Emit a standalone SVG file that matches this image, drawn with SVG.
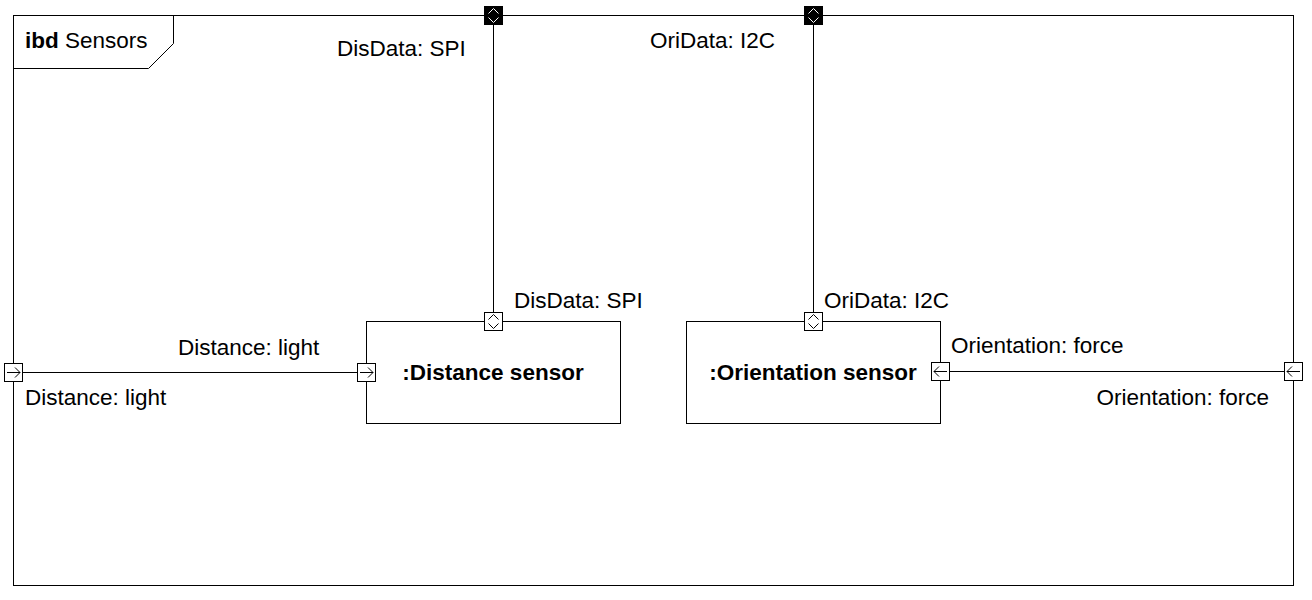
<svg xmlns="http://www.w3.org/2000/svg" width="1312" height="600" viewBox="0 0 1312 600">
<style>
.ln{fill:none;stroke:#000;stroke-width:1}
.box{fill:#fff;stroke:#000;stroke-width:1}
.port{fill:#fff;stroke:#000;stroke-width:1}
.bport{fill:#000;stroke:#000;stroke-width:1}
.sym{fill:none;stroke:#000;stroke-width:1}
.wsym{fill:none;stroke:#fff;stroke-width:1}
text{font-family:"Liberation Sans",Arial,sans-serif;font-size:22.5px;fill:#000}
.b{font-weight:bold}
</style>
<rect x="0" y="0" width="1312" height="600" fill="#fff"/>
<g id="frame">
<rect x="13.5" y="15.5" width="1280" height="570" class="box"/>
<path d="M13.5,68.5 H148.5 L173.5,43.5 V15.5" class="ln"/>
<text x="25" y="48"><tspan class="b">ibd</tspan> Sensors</text>
</g>
<g id="connectors">
<path d="M493.5,24 V312" class="ln"/>
<path d="M813.5,24 V312" class="ln"/>
<path d="M22,372.5 H357" class="ln"/>
<path d="M949,371.5 H1284" class="ln"/>
</g>
<g id="distance-sensor">
<rect x="366.5" y="321.5" width="254" height="102" class="box"/>
<text x="493" y="380" text-anchor="middle" class="b">:Distance sensor</text>
</g>
<g id="orientation-sensor">
<rect x="686.5" y="321.5" width="254" height="102" class="box"/>
<text x="813" y="380" text-anchor="middle" class="b">:Orientation sensor</text>
</g>
<g id="port-frame-disdata">
<rect x="484.5" y="6.5" width="18" height="18" class="bport"/>
<path d="M488.5,13.5 L493.5,8.5 L498.5,13.5 M488.5,17.5 L493.5,22.5 L498.5,17.5" class="wsym"/>
<text x="337" y="56">DisData: SPI</text>
</g>
<g id="port-frame-oridata">
<rect x="804.5" y="6.5" width="18" height="18" class="bport"/>
<path d="M808.5,13.5 L813.5,8.5 L818.5,13.5 M808.5,17.5 L813.5,22.5 L818.5,17.5" class="wsym"/>
<text x="650" y="48">OriData: I2C</text>
</g>
<g id="port-ds-disdata">
<rect x="484.5" y="312.5" width="18" height="18" class="port"/>
<path d="M488.5,319.5 L493.5,314.5 L498.5,319.5 M488.5,323.5 L493.5,328.5 L498.5,323.5" class="sym"/>
<text x="514" y="308">DisData: SPI</text>
</g>
<g id="port-os-oridata">
<rect x="804.5" y="312.5" width="18" height="18" class="port"/>
<path d="M808.5,319.5 L813.5,314.5 L818.5,319.5 M808.5,323.5 L813.5,328.5 L818.5,323.5" class="sym"/>
<text x="824" y="308">OriData: I2C</text>
</g>
<g id="port-frame-distance">
<rect x="4.5" y="363.5" width="18" height="18" class="port"/>
<path d="M7,372.5 H20 M15,367.5 L20,372.5 L15,377.5" class="sym"/>
<text x="25" y="405">Distance: light</text>
</g>
<g id="port-ds-distance">
<rect x="357.5" y="363.5" width="18" height="18" class="port"/>
<path d="M360,372.5 H373 M368,367.5 L373,372.5 L368,377.5" class="sym"/>
<text x="178" y="355">Distance: light</text>
</g>
<g id="port-os-orientation">
<rect x="931.5" y="362.5" width="18" height="18" class="port"/>
<path d="M947,371.5 H934 M939,366.5 L934,371.5 L939,376.5" class="sym"/>
<text x="951" y="353">Orientation: force</text>
</g>
<g id="port-frame-orientation">
<rect x="1284.5" y="362.5" width="18" height="18" class="port"/>
<path d="M1300,371.5 H1287 M1292,366.5 L1287,371.5 L1292,376.5" class="sym"/>
<text x="1269" y="405" text-anchor="end">Orientation: force</text>
</g>
</svg>
